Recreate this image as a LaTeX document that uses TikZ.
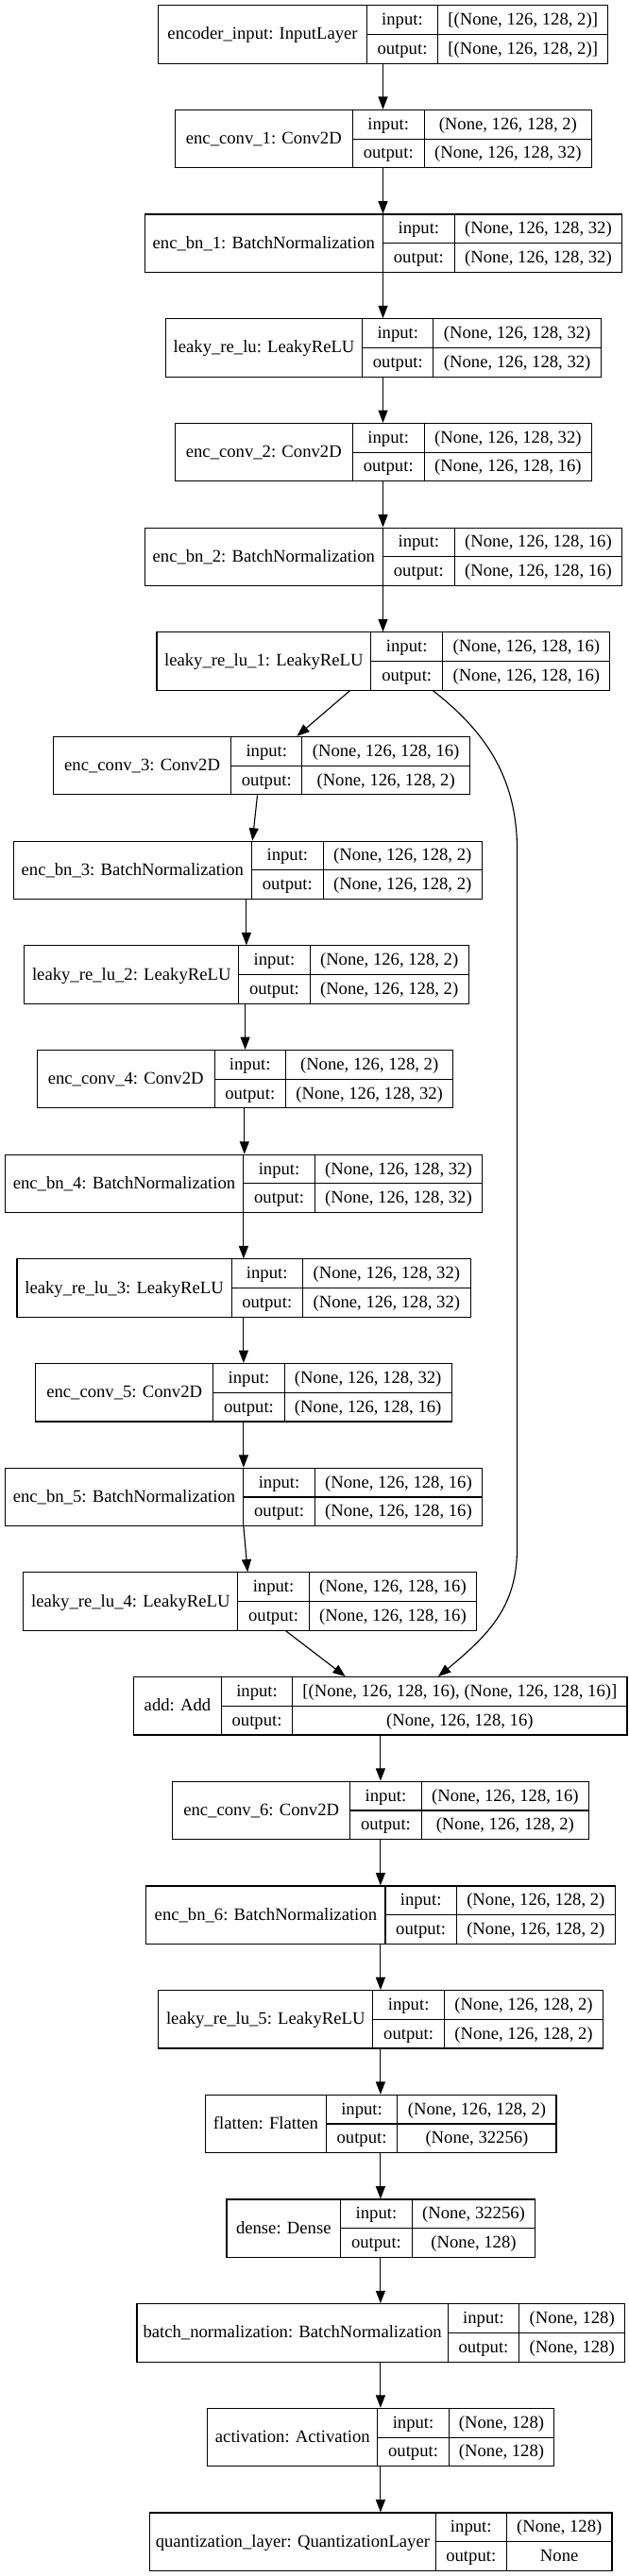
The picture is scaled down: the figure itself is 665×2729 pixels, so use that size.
\documentclass[tikz,border=0pt]{standalone}
\usepackage{fontspec}
\setmainfont{Liberation Serif}
\usetikzlibrary{arrows.meta}
\newcommand\klayer[9]{%
  \pgfmathsetmacro\ktop{5.7+110.68*#2}%
  \pgfmathsetmacro\kbot{\ktop+61.4}%
  \pgfmathsetmacro\kmid{\ktop+30.7}%
  \pgfmathsetmacro\kw{(#6-#3)*0.75}%
  \pgfmathsetmacro\kcx{(#3+#6)/2}%
  \node[kbox, minimum width=\kw pt] (#1) at (\kcx,\kmid) {};
  \draw[kline] (#1.north -| #4,0) -- (#1.south -| #4,0);
  \draw[kline] (#1.north -| #5,0) -- (#1.south -| #5,0);
  \draw[kline] (#4,\kmid) -- (#1.east |- #4,\kmid);
  \node[ktxt] (#1-lab) at ({(#3+#4)/2},{\kmid+5.5}) {#7};
  \node[ktxt] (#1-ik) at ({(#4+#5)/2},{\ktop+15.35+5.5}) {input:};
  \node[ktxt] (#1-ok) at ({(#4+#5)/2},{\ktop+46.05+5.5}) {output:};
  \node[ktxt] (#1-iv) at ({(#5+#6)/2},{\ktop+15.35+5.5}) {#8};
  \node[ktxt] (#1-ov) at ({(#5+#6)/2},{\ktop+46.05+5.5}) {#9};
}
\begin{document}
\begin{tikzpicture}[x=0.75pt,y=-0.75pt,line width=0.85pt,
  kbox/.style={draw,rectangle,inner sep=0pt,minimum height=46.05pt},
  kline/.style={draw},
  ktxt/.style={anchor=base,inner sep=0pt,font=\fontsize{14}{16}\selectfont},
  arr/.style={-{Triangle[length=10pt,width=7.5pt]}}]
\useasboundingbox (0,0) rectangle (665,2729);
\klayer{in0}{0}{167.7}{388.4}{463.6}{643.7}{encoder\_input: InputLayer}{[(None, 126, 128, 2)]}{[(None, 126, 128, 2)]}
\klayer{c1}{1}{185.2}{373.4}{449.1}{626.6}{enc\_conv\_1: Conv2D}{(None, 126, 128, 2)}{(None, 126, 128, 32)}
\klayer{bn1}{2}{153.1}{405.5}{481.2}{658.7}{enc\_bn\_1: BatchNormalization}{(None, 126, 128, 32)}{(None, 126, 128, 32)}
\klayer{lr0}{3}{175.4}{383.7}{458.9}{636.4}{leaky\_re\_lu: LeakyReLU}{(None, 126, 128, 32)}{(None, 126, 128, 32)}
\klayer{c2}{4}{185.2}{373.4}{449.1}{626.6}{enc\_conv\_2: Conv2D}{(None, 126, 128, 32)}{(None, 126, 128, 16)}
\klayer{bn2}{5}{153.1}{405.5}{481.2}{658.7}{enc\_bn\_2: BatchNormalization}{(None, 126, 128, 16)}{(None, 126, 128, 16)}
\klayer{lr1}{6}{166}{392.6}{468.8}{645.8}{leaky\_re\_lu\_1: LeakyReLU}{(None, 126, 128, 16)}{(None, 126, 128, 16)}
\klayer{c3}{7}{56.5}{244.7}{319.9}{497.4}{enc\_conv\_3: Conv2D}{(None, 126, 128, 16)}{(None, 126, 128, 2)}
\klayer{bn3}{8}{14.1}{266.5}{342.2}{510.3}{enc\_bn\_3: BatchNormalization}{(None, 126, 128, 2)}{(None, 126, 128, 2)}
\klayer{lr2}{9}{25.7}{252.8}{328.1}{496.2}{leaky\_re\_lu\_2: LeakyReLU}{(None, 126, 128, 2)}{(None, 126, 128, 2)}
\klayer{c4}{10}{39.3}{227.1}{302.4}{479.9}{enc\_conv\_4: Conv2D}{(None, 126, 128, 2)}{(None, 126, 128, 32)}
\klayer{bn4}{11}{5.1}{257.9}{333.2}{510.7}{enc\_bn\_4: BatchNormalization}{(None, 126, 128, 32)}{(None, 126, 128, 32)}
\klayer{lr3}{12}{18}{245.1}{320.4}{498.3}{leaky\_re\_lu\_3: LeakyReLU}{(None, 126, 128, 32)}{(None, 126, 128, 32)}
\klayer{c5}{13}{37.6}{225.8}{301.1}{478.2}{enc\_conv\_5: Conv2D}{(None, 126, 128, 32)}{(None, 126, 128, 16)}
\klayer{bn5}{14}{5.1}{257.9}{333.2}{510.7}{enc\_bn\_5: BatchNormalization}{(None, 126, 128, 16)}{(None, 126, 128, 16)}
\klayer{lr4}{15}{24.8}{251.9}{327.2}{504.7}{leaky\_re\_lu\_4: LeakyReLU}{(None, 126, 128, 16)}{(None, 126, 128, 16)}
\klayer{add}{16}{141.6}{234.4}{309.7}{664}{add: Add}{[(None, 126, 128, 16), (None, 126, 128, 16)]}{(None, 126, 128, 16)}
\klayer{c6}{17}{182.6}{370.8}{446.1}{623.6}{enc\_conv\_6: Conv2D}{(None, 126, 128, 16)}{(None, 126, 128, 2)}
\klayer{bn6}{18}{154.8}{408}{483.3}{651.4}{enc\_bn\_6: BatchNormalization}{(None, 126, 128, 2)}{(None, 126, 128, 2)}
\klayer{lr5}{19}{167.7}{394.8}{470.5}{638.6}{leaky\_re\_lu\_5: LeakyReLU}{(None, 126, 128, 2)}{(None, 126, 128, 2)}
\klayer{fl}{20}{217.7}{345.2}{420.9}{589}{flatten: Flatten}{(None, 126, 128, 2)}{(None, 32256)}
\klayer{de}{21}{240}{360.6}{436.3}{566.7}{dense: Dense}{(None, 32256)}{(None, 128)}
\klayer{bn}{22}{145}{474.3}{549.6}{661.7}{batch\_normalization: BatchNormalization}{(None, 128)}{(None, 128)}
\klayer{ac}{23}{219.8}{399.9}{475.2}{586.8}{activation: Activation}{(None, 128)}{(None, 128)}
\klayer{q}{24}{158.7}{461.1}{536.4}{648}{quantization\_layer: QuantizationLayer}{(None, 128)}{None}
% connectors
\draw[arr] (in0.south -| 405.5,0) -- (c1.north -| 405.5,0);
\draw[arr] (c1.south -| 405.5,0) -- (bn1.north -| 405.5,0);
\draw[arr] (bn1.south -| 405.5,0) -- (lr0.north -| 405.5,0);
\draw[arr] (lr0.south -| 405.5,0) -- (c2.north -| 405.5,0);
\draw[arr] (c2.south -| 405.5,0) -- (bn2.north -| 405.5,0);
\draw[arr] (bn2.south -| 405.5,0) -- (lr1.north -| 405.5,0);
\draw[arr] (lr1.south -| 370.4,0) -- (c3.north -| 314.4,0);
\draw[arr] (c3.south -| 272.5,0) -- (bn3.north -| 267.3,0);
\draw[arr] (bn3.south -| 260.9,0) -- (lr2.north -| 260.9,0);
\draw[arr] (lr2.south -| 259.6,0) -- (c4.north -| 259.6,0);
\draw[arr] (c4.south -| 258.8,0) -- (bn4.north -| 258.8,0);
\draw[arr] (bn4.south -| 257.9,0) -- (lr3.north -| 257.9,0);
\draw[arr] (lr3.south -| 257.9,0) -- (c5.north -| 257.9,0);
\draw[arr] (c5.south -| 257.9,0) -- (bn5.north -| 257.9,0);
\draw[arr] (bn5.south -| 257.9,0) -- (lr4.north -| 262.2,0);
\draw[arr] (lr4.south -| 302.8,0) -- (add.north -| 365.7,0);
\draw[arr] (lr1.south -| 458.5,0) .. controls (510,772) and (547.5,820) .. (547.5,900)
  -- (547.5,1640) .. controls (547.5,1700) and (520,1730) .. (add.north -| 464,0);
\draw[arr] (add.south -| 402.9,0) -- (c6.north -| 402.9,0);
\draw[arr] (c6.south -| 402.9,0) -- (bn6.north -| 402.9,0);
\draw[arr] (bn6.south -| 402.9,0) -- (lr5.north -| 402.9,0);
\draw[arr] (lr5.south -| 402.9,0) -- (fl.north -| 402.9,0);
\draw[arr] (fl.south -| 402.9,0) -- (de.north -| 402.9,0);
\draw[arr] (de.south -| 402.9,0) -- (bn.north -| 402.9,0);
\draw[arr] (bn.south -| 402.9,0) -- (ac.north -| 402.9,0);
\draw[arr] (ac.south -| 402.9,0) -- (q.north -| 402.9,0);
\end{tikzpicture}
\end{document}
